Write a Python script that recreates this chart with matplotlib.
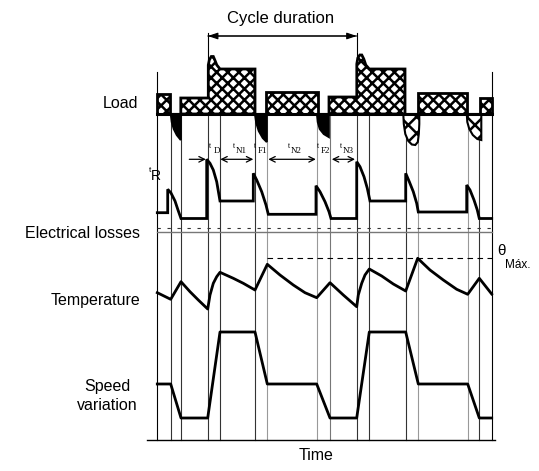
import numpy as np
import matplotlib.pyplot as plt
from matplotlib.patches import Polygon
from matplotlib.transforms import blended_transform_factory

plt.rcParams['font.family'] = ['Liberation Sans', 'DejaVu Sans']
plt.rcParams['hatch.linewidth'] = 1.8

# switching instants of the duty cycle (time units)
t_events = [0, 13.5, 24, 50.5, 63, 98, 110, 159.5, 173, 199.5, 212, 248.5, 261, 310.5, 322, 334.5]
shade = ['k', '#333', '#333', '#333', '#333', '#333', '#999', '#999',
         '#777', '#333', '#333', '#333', '#999', '#999', '#333', 'k']

# load profile: positive (driving) blocks, outline points (t, load)
load_blocks = [
    [(0, 0), (0, 20), (12.7, 20), (12.7, 0)],
    [(23.5, 0), (23.5, 16), (51, 16), (51, 49), (52, 54), (54, 57.5), (56, 57.5),
     (57.5, 54), (59.5, 49), (62.7, 45), (97.7, 45), (97.7, 0)],
    [(108.5, 0), (108.5, 22), (161, 22), (161, 0)],
    [(171.7, 0), (171.7, 17), (199.5, 17), (199.5, 50), (200.5, 56), (202.5, 59),
     (204.5, 59), (206.5, 55), (208.5, 49), (212, 45), (247.7, 45), (247.7, 0)],
    [(261, 0), (261, 21), (309.4, 21), (309.4, 0)],
    [(322.7, 0), (322.7, 16), (334.4, 16), (334.4, 0)],
]
# braking lobes below zero
brake_dark = [
    [(13.5, 0), (14.5, -8), (16.5, -15), (19.5, -21), (23.5, -26), (23.5, 0)],
    [(97.7, 0), (99, -9), (101.5, -17), (105.5, -24), (109.5, -28), (109.5, 0)],
    [(159.7, 0), (160.5, -8), (162.5, -15), (166.5, -20), (171.5, -23), (171.5, 0)],
]
brake_open = [
    [(246, 0), (246.5, -10), (248, -20), (251, -27), (254.5, -30.5), (258, -31),
     (260.5, -28), (261.5, -20), (262, -10), (262, 0)],
    [(309.5, 0), (310, -8), (312, -15), (315.5, -21), (320, -25), (324, -26), (324, 0)],
]

# electrical losses
loss_t = [0, 10.4, 10.4, 13.7, 17.7, 20.7, 23.7, 49.4, 49.4, 52.7, 56, 59.4, 62.7,
          96, 96, 99.4, 104.4, 108.7, 111, 158.7, 158.7, 162.7, 167.7, 171.7, 173.7,
          199.4, 199.4, 202.7, 206.7, 210, 212.7, 248.4, 248.4, 252, 256, 259.4, 261,
          309.4, 309.4, 312.7, 316.7, 320, 322, 334.4]
loss_v = [19.3, 19.3, 42.7, 39, 31, 22, 13.5, 13.5, 72.7, 68.7, 62, 50.3, 31,
          31, 58.7, 52, 40.3, 27, 17.7, 17.7, 46.3, 40.3, 30.3, 20.3, 13.5,
          13.5, 70.3, 65.3, 55.3, 43.7, 31, 31, 58.7, 50.3, 40.3, 28.7, 20,
          20, 47, 42, 32, 22, 13.5, 13.5]

# winding temperature
temp_t = [0, 13.4, 23.7, 32.7, 41, 50.4, 52.7, 56, 59.4, 62.7, 76, 86, 97.7, 110,
          122.7, 136, 147.7, 159.4, 172.7, 186, 199.4, 201, 204.4, 207.7, 212,
          224.4, 236, 248.4, 260.4, 272.7, 286, 299.4, 310.4, 322, 334.4]
temp_v = [37.3, 30.7, 48.3, 38.3, 30, 21, 35, 46.7, 53.3, 57.7, 51.7, 46.7, 40, 65.7,
          55, 45, 37.3, 32.3, 47.3, 35, 23.3, 35, 46.7, 55, 61,
          54, 46, 39, 71.7, 60, 50, 40.7, 35.7, 51.7, 36]
theta_max = 71.7

# speed
speed_t = [0, 13.4, 23.7, 50.4, 62.7, 97.7, 110, 159.4, 172.7, 199.4, 212, 248.4,
           261, 310.4, 322, 334.4]
speed_v = [56, 56, 22, 22, 108, 108, 56, 56, 22, 22, 108, 108, 56, 56, 22, 22]

# interval annotations: (name, label centre, arrow start, arrow end, arrow style)
intervals = [('D', 59, 32, 48.5, '->'), ('N1', 83, 63, 96, '<->'),
             ('F1', 104, None, None, None), ('N2', 138, 111, 158.5, '<->'),
             ('F2', 167, None, None, None), ('N3', 190, 174.5, 197.7, '<->')]

W, H = 539, 471
fig = plt.figure(figsize=(W / 100, H / 100), dpi=100)

ov = fig.add_axes([0, 0, 1, 1])
ov.set_xlim(0, W)
ov.set_ylim(H, 0)
ov.axis('off')


def panel(top, bottom, ylim):
    ax = fig.add_axes([140 / W, 1 - bottom / H, 360 / W, (bottom - top) / H])
    ax.set_xlim(-17.3, 342.7)
    ax.set_ylim(*ylim)
    ax.axis('off')
    ax.set_zorder(2)
    return ax


ax_load = panel(0, 160, (-46, 114))
ax_loss = panel(140, 232, (0, 92))
ax_temp = panel(232, 330, (0, 98))
ax_spd = panel(325, 440, (0, 115))

# time grid lines
tr = blended_transform_factory(ax_spd.transData, ov.transData)
for i, t in enumerate(t_events):
    top = 72 if i in (0, len(t_events) - 1) else 114
    ov.plot([t, t], [top, 440], color=shade[i], lw=0.8, transform=tr)
ov.plot([147, 495], [440, 440], color='k', lw=1.0)

# load
for pts in load_blocks:
    ax_load.add_patch(Polygon(pts, closed=True, facecolor='white', edgecolor='k',
                              hatch='xxx', lw=2, zorder=3))
for pts in brake_dark:
    ax_load.add_patch(Polygon(pts, closed=True, facecolor='k', edgecolor='k',
                              lw=1.5, zorder=3))
for pts in brake_open:
    ax_load.add_patch(Polygon(pts, closed=True, facecolor='white', edgecolor='k',
                              hatch='xx', lw=1.5, zorder=3))
ax_load.plot([0, 334.4], [0, 0], color='k', lw=2.2, zorder=4)

# cycle duration
c0, c1 = t_events[3], t_events[9]
for c in (c0, c1):
    ax_load.plot([c, c], [55, 81], color='k', lw=0.8)
for a, b in ((c0, c1), (c1, c0)):
    ax_load.annotate('', xy=(b, 78), xytext=(a, 78),
                     arrowprops=dict(arrowstyle='-|>,head_length=0.6,head_width=0.2',
                                     color='k', lw=0.8, shrinkA=0, shrinkB=0))
ov.text(281, 18, 'Cycle duration', ha='center', va='center', fontsize=12)

# losses
ax_loss.plot(loss_t, loss_v, color='k', lw=2, solid_joinstyle='miter')
ax_loss.plot([0, 334.4], [0.3, 0.3], color='#777', lw=1, clip_on=False)
ax_loss.plot([0, 334.4], [4, 4], color='#333', lw=0.8, ls=(0, (3, 6)))
for name, xc, a0, a1, style in intervals:
    ax_loss.text(xc - 6, 86, 't', fontsize=5.5, family='Liberation Serif',
                 ha='center', va='center')
    ax_loss.text(xc + 1, 80.5, name, fontsize=6.5, family='Liberation Serif',
                 ha='center', va='center')
    if style:
        ax_loss.annotate('', xy=(a1, 72.7), xytext=(a0, 72.7),
                         arrowprops=dict(arrowstyle=style + ',head_length=0.4,head_width=0.2',
                                         color='k', lw=0.9, shrinkA=0, shrinkB=0))
ov.text(150, 170, 't', fontsize=6, ha='center', va='center')
ov.text(156, 176.5, 'R', fontsize=10, ha='center', va='center')

# temperature
ax_temp.plot(temp_t, temp_v, color='k', lw=2)
ax_temp.plot([110, 334.4], [theta_max, theta_max], color='k', lw=0.8, ls=(0, (5, 4)))
ov.text(497, 251, 'θ', fontsize=11, ha='left', va='center')
ov.text(505, 265, 'Máx.', fontsize=8.5, ha='left', va='center')

# speed
ax_spd.plot(speed_t, speed_v, color='k', lw=2)

# row labels
ov.text(138, 104, 'Load', ha='right', va='center', fontsize=11.5)
ov.text(140, 233, 'Electrical losses', ha='right', va='center', fontsize=11.5)
ov.text(140, 300, 'Temperature', ha='right', va='center', fontsize=11.5)
ov.text(107, 396, 'Speed\nvariation', ha='center', va='center', fontsize=11.5,
        linespacing=1.25)
ov.text(316, 456, 'Time', ha='center', va='center', fontsize=11.5)

fig.savefig('out.png', dpi=100)
